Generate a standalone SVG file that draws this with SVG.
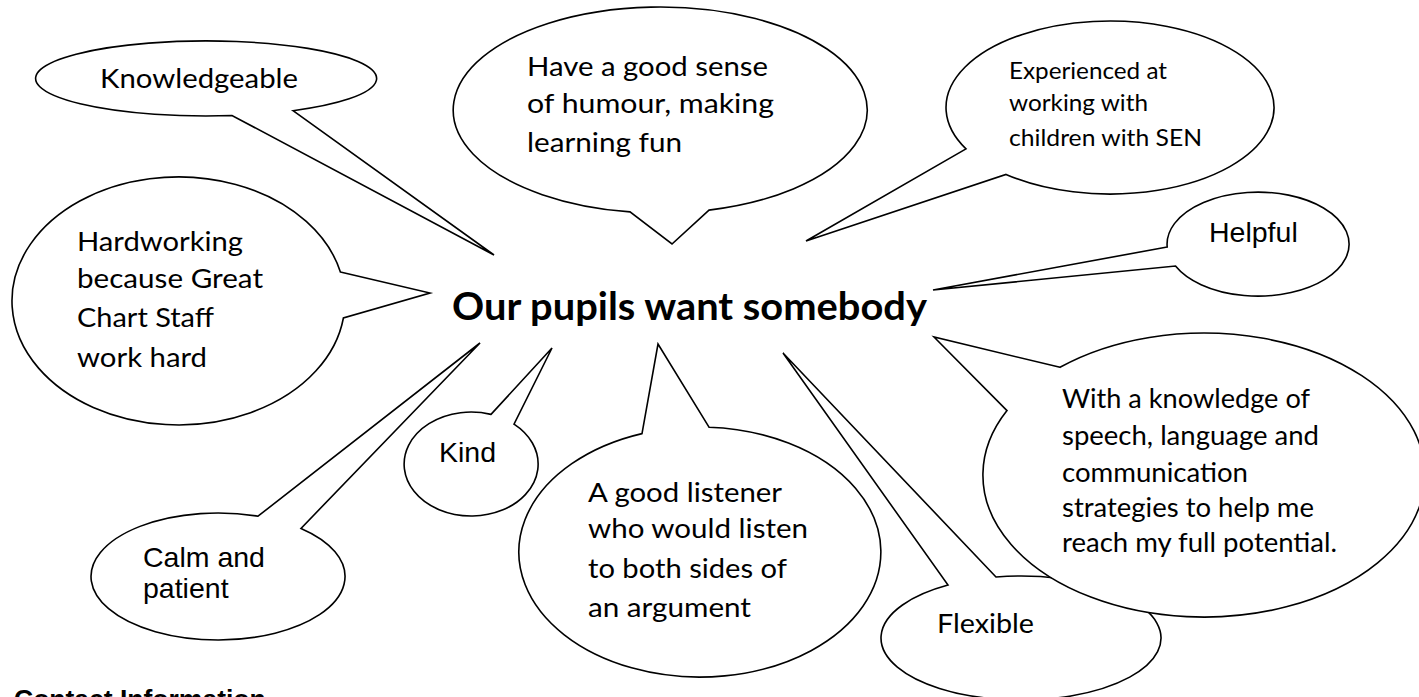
<svg xmlns="http://www.w3.org/2000/svg" width="1419" height="697" viewBox="0 0 1419 697">
<style>
.b{fill:#fff;stroke:#000;stroke-width:1.6;stroke-linejoin:miter}
.t{font-family:Lato,"Open Sans","Liberation Sans",sans-serif;font-size:26.5px;fill:#000}
.s{font-size:22.5px}
.a{font-family:"Liberation Sans",Arial,sans-serif;font-size:28.5px;fill:#000}
.h{font-family:Lato,"Open Sans","Liberation Sans",sans-serif;font-weight:bold;font-size:37.5px;fill:#000}
.c{font-family:"Liberation Sans",Arial,sans-serif;font-weight:bold;font-size:26.5px;fill:#000}
</style>
<rect width="1419" height="697" fill="#fff"/>
<g id="connectors"></g>
<g id="knowledgeable">
<path class="b" d="M293,110.7 L494,255 L232,115.5 A170.5 37.5 0 1 1 293,110.7 Z"/>
<text class="t" x="100" y="88" textLength="198" lengthAdjust="spacingAndGlyphs">Knowledgeable</text>
</g>
<g id="humour">
<path class="b" d="M709,210.1 L672,244 L630,211.9 A207 103 0 1 1 709,210.1 Z"/>
<text class="t" x="527" y="76" textLength="241" lengthAdjust="spacingAndGlyphs">Have a good sense</text>
<text class="t" x="527" y="113" textLength="247" lengthAdjust="spacingAndGlyphs">of humour, making</text>
<text class="t" x="527" y="152" textLength="155" lengthAdjust="spacingAndGlyphs">learning fun</text>
</g>
<g id="experienced">
<path class="b" d="M966,148.9 L806,241 L1006,174.4 A164 86.5 0 1 0 966,148.9 Z"/>
<text class="t s" x="1009" y="79" textLength="158" lengthAdjust="spacingAndGlyphs">Experienced at</text>
<text class="t s" x="1009" y="111" textLength="139" lengthAdjust="spacingAndGlyphs">working with</text>
<text class="t s" x="1009" y="146" textLength="193" lengthAdjust="spacingAndGlyphs">children with SEN</text>
</g>
<g id="helpful">
<path class="b" d="M1167.2,247 L933,290 L1175.5,266 A91 52 0 1 0 1167.2,247 Z"/>
<text class="a" x="1209" y="242">Helpful</text>
</g>
<g id="hardworking">
<path class="b" d="M340.4,272 L430,293 L343.4,318 A166.5 124 0 1 1 340.4,272 Z"/>
<text class="t" x="77" y="251" textLength="166" lengthAdjust="spacingAndGlyphs">Hardworking</text>
<text class="t" x="77" y="288" textLength="186" lengthAdjust="spacingAndGlyphs">because Great</text>
<text class="t" x="77" y="327" textLength="137" lengthAdjust="spacingAndGlyphs">Chart Staff</text>
<text class="t" x="77" y="367" textLength="130" lengthAdjust="spacingAndGlyphs">work hard</text>
</g>
<g id="calm">
<path class="b" d="M258,516.2 L480,343 L301,528.4 A127 63.5 0 1 1 258,516.2 Z"/>
<text class="a" x="143" y="567">Calm and</text>
<text class="a" x="143" y="598">patient</text>
</g>
<g id="kind">
<path class="b" d="M491,414.4 L552,348 L514,424.1 A67 52 0 1 1 491,414.4 Z"/>
<text class="a" x="439" y="462">Kind</text>
</g>
<g id="listener">
<path class="b" d="M709,427.2 L658,344 L642,433.6 A181 125 0 1 0 709,427.2 Z"/>
<text class="t" x="588" y="502" textLength="194" lengthAdjust="spacingAndGlyphs">A good listener</text>
<text class="t" x="588" y="538" textLength="220" lengthAdjust="spacingAndGlyphs">who would listen</text>
<text class="t" x="588" y="578" textLength="199" lengthAdjust="spacingAndGlyphs">to both sides of</text>
<text class="t" x="588" y="617" textLength="163" lengthAdjust="spacingAndGlyphs">an argument</text>
</g>
<g id="flexible">
<path class="b" d="M996,577 L783,353 L948,585.1 A140 62 0 1 0 996,577 Z"/>
<text class="t" x="937" y="633" textLength="97" lengthAdjust="spacingAndGlyphs">Flexible</text>
</g>
<g id="speech">
<path class="b" d="M1060,367.3 L934,337 L1007,410.6 A221 142 0 1 0 1060,367.3 Z"/>
<text class="t" x="1062" y="408" textLength="248" lengthAdjust="spacingAndGlyphs">With a knowledge of</text>
<text class="t" x="1062" y="445" textLength="257" lengthAdjust="spacingAndGlyphs">speech, language and</text>
<text class="t" x="1062" y="482" textLength="186" lengthAdjust="spacingAndGlyphs">communication</text>
<text class="t" x="1062" y="517" textLength="252" lengthAdjust="spacingAndGlyphs">strategies to help me</text>
<text class="t" x="1062" y="552" textLength="275" lengthAdjust="spacingAndGlyphs">reach my full potential.</text>
</g>
<g id="title">
<text class="h" x="452" y="320" textLength="475" lengthAdjust="spacingAndGlyphs">Our pupils want somebody</text>
</g>
<g id="contact">
<text class="c" x="14" y="708">Contact Information</text>
</g>
</svg>
